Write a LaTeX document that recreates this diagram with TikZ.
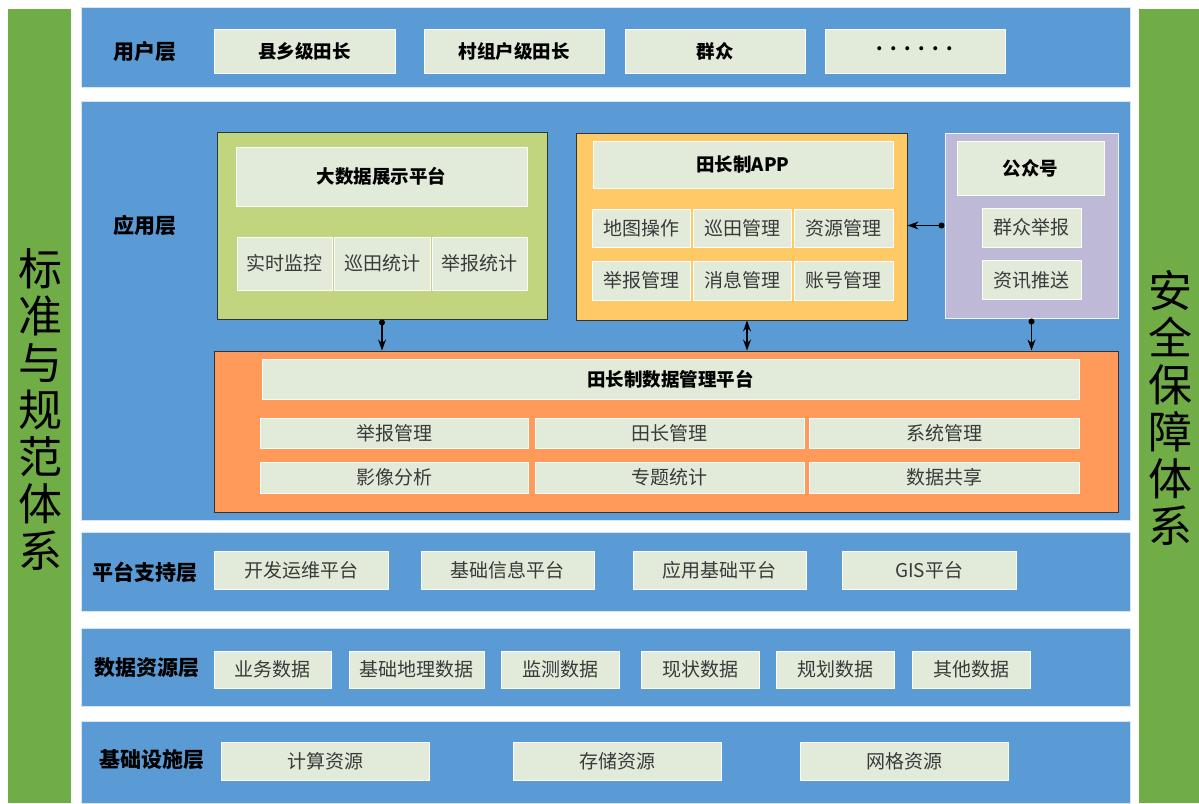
\documentclass[tikz,border=0pt]{standalone}
\usepackage{fontspec}
\setmainfont{Noto Sans CJK SC}
\usetikzlibrary{arrows.meta}
\definecolor{bandblue}{HTML}{5B9BD5}
\definecolor{sidegreen}{HTML}{70AD47}
\definecolor{cellgreen}{HTML}{E2EBDA}
\definecolor{celltext}{HTML}{3A3A3A}
\definecolor{gboxfill}{HTML}{C0D57D}
\definecolor{yboxfill}{HTML}{FFC966}
\definecolor{pboxfill}{HTML}{BDB9D6}
\definecolor{oboxfill}{HTML}{FF9A5A}
\tikzset{
  band/.style={fill=bandblue, draw=white!75!bandblue, line width=0.8pt},
  cell/.style={draw=white!90!cellgreen, line width=1pt, fill=cellgreen, text=celltext, inner sep=0pt, font=\fontsize{19}{21}\selectfont},
  head/.style={cell, text=black, font=\fontsize{18.5}{21}\selectfont\bfseries},
  layer/.style={text=black, font=\fontsize{21}{24}\selectfont\bfseries},
  frame/.style={draw=black!80, line width=1pt, inner sep=0pt},
  sidetext/.style={align=center, font=\fontsize{44}{47}\selectfont},
  link/.style={{Circle[length=6pt]}-{Stealth[length=11pt,width=8pt]}, line width=1.1pt},
}
\begin{document}
\begin{tikzpicture}[x=1pt, y=-1pt]
  \useasboundingbox (0,0) rectangle (1199,803);
  % side bars
  \fill[sidegreen] (8,9) rectangle (71,803);
  \fill[sidegreen] (1139,9) rectangle (1199,803);
  \node[sidetext] (std) at (40,410) {标\\准\\与\\规\\范\\体\\系};
  \node[sidetext] (sec) at (1170,408) {安\\全\\保\\障\\体\\系};
  % layer bands
  \draw[band] (81,7) rectangle (1130,87);
  \draw[band] (81,101) rectangle (1130,520);
  \draw[band] (81,532) rectangle (1130,611);
  \draw[band] (81,628) rectangle (1130,706);
  \draw[band] (81,721) rectangle (1130,803);
  \node[layer] (lusr) at (145,52) {用户层};
  \node[layer] (lapp) at (145,225) {应用层};
  \node[layer] (lplat) at (145,572) {平台支持层};
  \node[layer] (ldata) at (147,668) {数据资源层};
  \node[layer] (linfra) at (152,760) {基础设施层};
  % user layer
  \node[head, minimum width=181pt, minimum height=44pt] (u1) at (304.5,51) {县乡级田长};
  \node[head, minimum width=180pt, minimum height=44pt] (u2) at (514,51) {村组户级田长};
  \node[head, minimum width=180pt, minimum height=44pt] (u3) at (715,51) {群众};
  \node[head, minimum width=180pt, minimum height=44pt] (u4) at (915,51) {\raisebox{0.3em}{.\hspace{7.5pt}.\hspace{7.5pt}.\hspace{7.5pt}.\hspace{7.5pt}.\hspace{7.5pt}.}};
  % application layer
  \node[frame, fill=gboxfill, minimum width=330pt, minimum height=187pt] (gbox) at (382,225.5) {};
  \node[frame, fill=yboxfill, minimum width=331pt, minimum height=187pt] (ybox) at (741.5,226.5) {};
  \node[frame, draw=white!80!pboxfill, fill=pboxfill, minimum width=173pt, minimum height=185pt] (pbox) at (1031.5,225.5) {};
  \node[frame, fill=oboxfill, minimum width=904pt, minimum height=161pt] (obox) at (666,431.5) {};
  \node[head, minimum width=291pt, minimum height=59pt] (gtitle) at (381.5,176.5) {大数据展示平台};
  \node[cell, minimum width=95pt, minimum height=53pt] (g1) at (284.5,263.5) {实时监控};
  \node[cell, minimum width=96pt, minimum height=53pt] (g2) at (382,263.5) {巡田统计};
  \node[cell, minimum width=95pt, minimum height=53pt] (g3) at (479.5,263.5) {举报统计};
  \node[head, minimum width=300pt, minimum height=47pt] (ytitle) at (743,164.5) {田长制APP};
  \node[cell, minimum width=98pt, minimum height=38pt] (y1) at (641,228) {地图操作};
  \node[cell, minimum width=98pt, minimum height=38pt] (y2) at (742,228) {巡田管理};
  \node[cell, minimum width=99pt, minimum height=38pt] (y3) at (843.5,228) {资源管理};
  \node[cell, minimum width=98pt, minimum height=39pt] (y4) at (641,280.5) {举报管理};
  \node[cell, minimum width=98pt, minimum height=39pt] (y5) at (742,280.5) {消息管理};
  \node[cell, minimum width=99pt, minimum height=39pt] (y6) at (843.5,280.5) {账号管理};
  \node[head, minimum width=147pt, minimum height=54pt] (ptitle) at (1030.5,168) {公众号};
  \node[cell, minimum width=99pt, minimum height=39pt] (p1) at (1031.5,227.5) {群众举报};
  \node[cell, minimum width=99pt, minimum height=39pt] (p2) at (1031.5,280) {资讯推送};
  \node[head, minimum width=817pt, minimum height=40pt] (otitle) at (670.5,379) {田长制数据管理平台};
  \node[cell, minimum width=268pt, minimum height=30pt] (o1) at (394,433) {举报管理};
  \node[cell, minimum width=269pt, minimum height=30pt] (o2) at (669.5,433) {田长管理};
  \node[cell, minimum width=270pt, minimum height=30pt] (o3) at (944,433) {系统管理};
  \node[cell, minimum width=268pt, minimum height=31pt] (o4) at (394,477.5) {影像分析};
  \node[cell, minimum width=269pt, minimum height=31pt] (o5) at (669.5,477.5) {专题统计};
  \node[cell, minimum width=270pt, minimum height=31pt] (o6) at (944,477.5) {数据共享};
  \draw[link] (pbox.west) -- (pbox.west -| ybox.east);
  \draw[link] (gbox.south) -- (gbox.south |- obox.north);
  \draw[link] (pbox.south) -- (pbox.south |- obox.north);
  \draw[{Stealth[length=11pt,width=8pt]}-{Stealth[length=11pt,width=8pt]}, line width=1.1pt] ([xshift=5.5pt]ybox.south) -- ([xshift=5.5pt]ybox.south |- obox.north);
  % platform layer
  \node[cell, minimum width=174pt, minimum height=38pt] (s1) at (301,570) {开发运维平台};
  \node[cell, minimum width=173pt, minimum height=38pt] (s2) at (507.5,570) {基础信息平台};
  \node[cell, minimum width=173pt, minimum height=38pt] (s3) at (719.5,570) {应用基础平台};
  \node[cell, minimum width=174pt, minimum height=38pt] (s4) at (929,570) {GIS平台};
  % data layer
  \node[cell, minimum width=117pt, minimum height=37pt] (d1) at (272.5,669.5) {业务数据};
  \node[cell, minimum width=135pt, minimum height=37pt] (d2) at (416.5,669.5) {基础地理数据};
  \node[cell, minimum width=118pt, minimum height=37pt] (d3) at (560,669.5) {监测数据};
  \node[cell, minimum width=118pt, minimum height=37pt] (d4) at (700,669.5) {现状数据};
  \node[cell, minimum width=118pt, minimum height=37pt] (d5) at (835,669.5) {规划数据};
  \node[cell, minimum width=118pt, minimum height=37pt] (d6) at (971,669.5) {其他数据};
  % infrastructure layer
  \node[cell, minimum width=208pt, minimum height=38pt] (i1) at (325,761) {计算资源};
  \node[cell, minimum width=208pt, minimum height=38pt] (i2) at (617,761) {存储资源};
  \node[cell, minimum width=208pt, minimum height=38pt] (i3) at (904,761) {网格资源};
\end{tikzpicture}
\end{document}
